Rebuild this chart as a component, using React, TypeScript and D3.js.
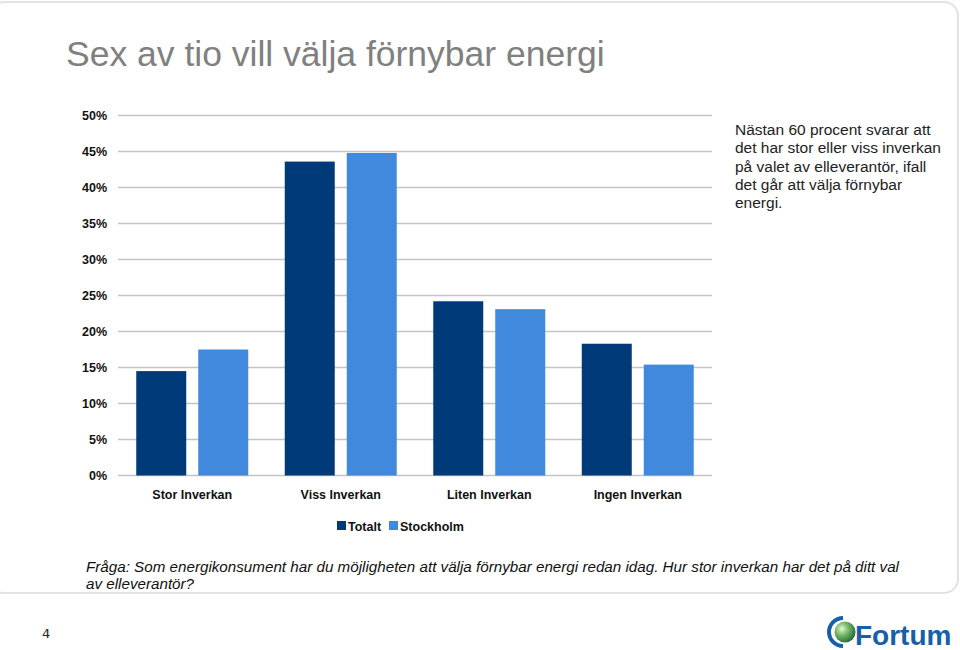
import React from "react";
import * as d3 from "d3";

const categories = ["Stor Inverkan", "Viss Inverkan", "Liten Inverkan", "Ingen Inverkan"];
const seriesNames = ["Totalt", "Stockholm"];
const totalt = [14.5, 43.6, 24.2, 18.3];
const stockholm = [17.5, 44.8, 23.1, 15.4];
const yTicks = [0, 5, 10, 15, 20, 25, 30, 35, 40, 45, 50];
const colors = ["#003a78", "#4189dc"];
const title = "Sex av tio vill välja förnybar energi";
const sideText = [
  "Nästan 60 procent svarar att",
  "det har stor eller viss inverkan",
  "på valet av elleverantör, ifall",
  "det går att välja förnybar",
  "energi.",
];
const questionLines = [
  "Fråga: Som energikonsument har du möjligheten att välja förnybar energi redan idag. Hur stor inverkan har det på ditt val",
  "av elleverantör?",
];

export default function App() {
  const W = 960;
  const H = 650;
  const left = 118;
  const right = 712;
  const top = 115.5;
  const bottom = 475.5;

  const y = d3.scaleLinear().domain([0, 50]).range([bottom, top]);
  const x0 = d3.scaleBand<string>().domain(categories).range([left, right]).padding(0);
  const x1 = d3
    .scaleBand<string>()
    .domain(seriesNames)
    .range([18.25, x0.bandwidth() - 18.25])
    .paddingInner(12 / 62)
    .paddingOuter(0);
  const values = [totalt, stockholm];
  const axisFont = "'Liberation Sans', Arial, sans-serif";

  return (
    <svg
      width={W}
      height={H}
      style={{ position: "absolute", left: 0, top: 0, background: "#fff" }}
      fontFamily={axisFont}
    >
      <rect x={-10} y={2} width={968} height={591} rx={14} fill="#fff" stroke="#e2e2e2" strokeWidth={2} />
      <text x={66} y={66} fontSize={35.5} fill="#808080">
        {title}
      </text>
      {yTicks.map((t) => (
        <g key={t}>
          <line x1={left} x2={right} y1={y(t)} y2={y(t)} stroke="#c4c4c4" strokeWidth={1.5} />
          <text x={107} y={y(t)} dy="0.35em" textAnchor="end" fontSize={12.5} fontWeight="bold" fill="#111">
            {t}%
          </text>
        </g>
      ))}
      {categories.map((c, i) => (
        <g key={c} transform={`translate(${x0(c)},0)`}>
          {seriesNames.map((s, j) => (
            <rect
              key={s}
              x={x1(s)}
              y={y(values[j][i])}
              width={x1.bandwidth()}
              height={bottom - y(values[j][i])}
              fill={colors[j]}
            />
          ))}
          <text x={x0.bandwidth() / 2} y={499} textAnchor="middle" fontSize={12.5} fontWeight="bold" fill="#111">
            {c}
          </text>
        </g>
      ))}
      <g transform="translate(337,521)">
        <rect x={0} y={0} width={9} height={9} fill={colors[0]} />
        <text x={11} y={10} fontSize={12.5} fontWeight="bold" fill="#111">
          {seriesNames[0]}
        </text>
        <rect x={52} y={0} width={9} height={9} fill={colors[1]} />
        <text x={63} y={10} fontSize={12.5} fontWeight="bold" fill="#111">
          {seriesNames[1]}
        </text>
      </g>
      {sideText.map((l, i) => (
        <text key={i} x={735} y={135 + i * 18.3} fontSize={15.5} fill="#222">
          {l}
        </text>
      ))}
      {questionLines.map((l, i) => (
        <text key={i} x={86} y={572 + i * 17} fontSize={15.2} fontStyle="italic" fill="#111">
          {l}
        </text>
      ))}
      <text x={42} y={638} fontSize={13} fill="#222" fontFamily="'DejaVu Sans', sans-serif">
        4
      </text>
      <defs>
        <radialGradient id="ball" cx="0.35" cy="0.35" r="0.7">
          <stop offset="0" stopColor="#e8f5e0" />
          <stop offset="0.4" stopColor="#7fbf6a" />
          <stop offset="1" stopColor="#1e6a3a" />
        </radialGradient>
      </defs>
      <g>
        <path d="M 843 616 A 16 16 0 1 0 843 648 L 843 644 A 12 12 0 1 1 843 620 Z" fill="#1560a8" />
        <circle cx={845} cy={632} r={10.5} fill="url(#ball)" />
        <text x={855} y={645} fontSize={28} fontWeight="bold" fill="#1560a8" fontFamily="'Liberation Sans Narrow', 'Liberation Sans', Arial, sans-serif">
          Fortum
        </text>
      </g>
    </svg>
  );
}
